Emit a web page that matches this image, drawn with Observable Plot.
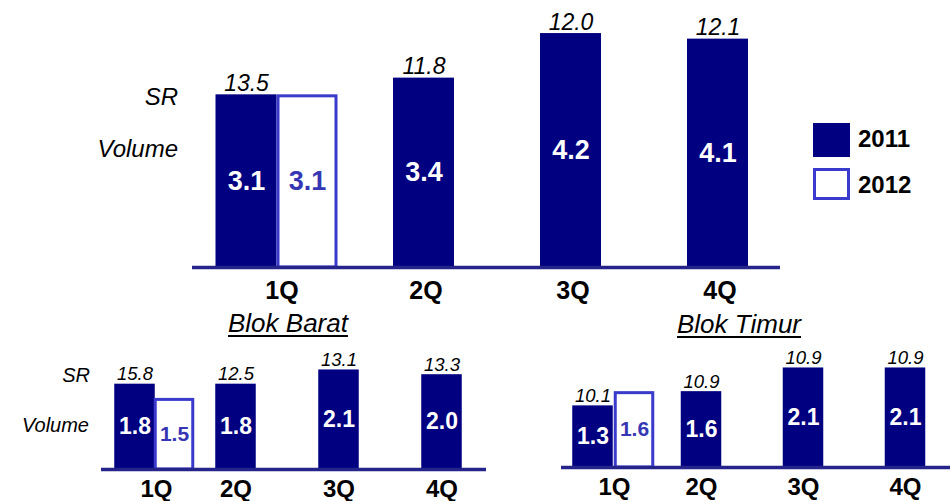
<!DOCTYPE html>
<html>
<head>
<meta charset="utf-8">
<script src="https://cdn.jsdelivr.net/npm/d3@7"></script>
<script src="https://cdn.jsdelivr.net/npm/@observablehq/plot@0.6"></script>
<style>
  body { margin: 0; background: #fff; font-family: "Liberation Sans", Arial, sans-serif; }
  #wrap { position: relative; width: 952px; height: 501px; overflow: hidden; background: #fff; }
  .abs { position: absolute; line-height: 1; white-space: nowrap; color: #000; }
  .panel { position: absolute; }
  .panel svg { overflow: visible; }
</style>
</head>
<body>
<div id="wrap"></div>
<script>
// ---- data ----
const quarters = ["1Q", "2Q", "3Q", "4Q"];
const years = ["2011", "2012"];
const rowLabels = ["SR", "Volume"];
const panelTitles = ["Blok Barat", "Blok Timur"];

const totalVolume2011 = [3.1, 3.4, 4.2, 4.1];
const totalSR2011 = [13.5, 11.8, 12.0, 12.1];
const totalVolume2012 = [3.1];

const baratVolume2011 = [1.8, 1.8, 2.1, 2.0];
const baratSR2011 = [15.8, 12.5, 13.1, 13.3];
const baratVolume2012 = [1.5];

const timurVolume2011 = [1.3, 1.6, 2.1, 2.1];
const timurSR2011 = [10.1, 10.9, 10.9, 10.9];
const timurVolume2012 = [1.6];

// ---- styles ----
const NAVY = "#000080";
const BLUE = "#3a3acc";
const BLUE_TEXT = "#3636b4";
const LINE = "#24248a";
const FONT = "Liberation Sans, Arial, sans-serif";

const wrap = document.getElementById("wrap");

function panel(cfg) {
  const d11 = quarters.map((q, i) => ({q, vol: cfg.vol11[i], sr: cfg.sr11[i]}));
  const d12 = cfg.vol12.map((v, i) => ({q: quarters[i], vol: v}));
  const first = d11.filter(d => d.q === quarters[0]);
  const rest = d11.filter(d => d.q !== quarters[0]);
  const side = (cfg.step - cfg.barW) / 2;
  const srText = {text: d => d.sr.toFixed(1), lineAnchor: "bottom", dy: -4, fontStyle: "italic", fontSize: cfg.srFs, fill: "#000"};
  const volText = {y: d => d.vol / 2, text: d => d.vol.toFixed(1), lineAnchor: "middle", fontWeight: "bold", fontSize: cfg.volFs};
  const qText = {frameAnchor: "bottom", text: d => d, lineAnchor: "middle", dy: cfg.labelDy, fontWeight: "bold", fontSize: cfg.qFs, fill: "#000"};
  const svg = Plot.plot({
    width: cfg.width,
    height: cfg.height,
    marginLeft: cfg.ml,
    marginRight: cfg.mr,
    marginTop: 0,
    marginBottom: cfg.mb,
    x: {type: "band", domain: quarters, range: cfg.range, padding: 0, axis: null},
    y: {domain: [0, cfg.ymax], axis: null},
    style: {fontFamily: FONT, background: "transparent", overflow: "visible"},
    marks: [
      Plot.barY(rest, {x: "q", y: "vol", fill: NAVY, insetLeft: side, insetRight: side}),
      Plot.barY(first, {x: "q", y: "vol", fill: NAVY, insetLeft: side, insetRight: side, dx: cfg.dx11}),
      Plot.barY(d12, {x: "q", y: "vol", fill: "white", stroke: BLUE, strokeWidth: 3,
        insetLeft: side + 1.5, insetRight: side + 1.5, insetTop: 1.5, dx: cfg.dx12}),
      Plot.ruleY([0], {stroke: LINE, strokeWidth: 3.5}),
      Plot.text(rest, {x: "q", y: "vol", ...srText}),
      Plot.text(first, {x: "q", y: "vol", ...srText, dx: cfg.dx11}),
      Plot.text(rest, {x: "q", ...volText, fill: "white"}),
      Plot.text(first, {x: "q", ...volText, fill: "white", dx: cfg.dx11}),
      Plot.text(d12, {x: "q", ...volText, fontSize: cfg.vol12Fs, fill: BLUE_TEXT, dx: cfg.dx12}),
      Plot.text(quarters.slice(1), {x: d => d, ...qText, dx: cfg.labelDx}),
      Plot.text(quarters.slice(0, 1), {x: d => d, ...qText, dx: cfg.labelDx1})
    ]
  });
  const div = document.createElement("div");
  div.className = "panel";
  div.style.left = cfg.left + "px";
  div.style.top = cfg.top + "px";
  div.appendChild(svg);
  wrap.appendChild(div);
}

// top: all
panel({
  vol11: totalVolume2011, sr11: totalSR2011, vol12: totalVolume2012,
  left: 0, top: 0, width: 800, height: 310, ml: 192, mr: 20, mb: 43,
  range: [203, 791], step: 147, barW: 61, dx11: -30.5, dx12: 30.5,
  ymax: 267 / 55.7, srFs: 23, volFs: 27, vol12Fs: 27, qFs: 25,
  labelDy: 23, labelDx: 2, labelDx1: 5
});
// bottom-left: Blok Barat
panel({
  vol11: baratVolume2011, sr11: baratSR2011, vol12: baratVolume2012,
  left: 0, top: 330, width: 500, height: 171, ml: 101, mr: 14, mb: 32,
  range: [79.75, 493.75], step: 103.5, barW: 41, dx11: 2, dx12: 41.5,
  ymax: 139 / 47.4, srFs: 18.5, volFs: 23, vol12Fs: 21, qFs: 24,
  labelDy: 19.5, labelDx: 0, labelDx1: 23.5
});
// bottom-right: Blok Timur
panel({
  vol11: timurVolume2011, sr11: timurSR2011, vol12: timurVolume2012,
  left: 480, top: 330, width: 472, height: 171, ml: 81, mr: 2, mb: 34,
  range: [66.75, 476.75], step: 102.5, barW: 41, dx11: -6.5, dx12: 35,
  ymax: 137 / 47.4, srFs: 18.5, volFs: 23, vol12Fs: 21, qFs: 24,
  labelDy: 20, labelDx: 0, labelDx1: 15
});

// ---- html text ----
function label(text, {x, baseline, fs, anchor = "start", italic = false, bold = false, underline = false, color = "#000"}) {
  const el = document.createElement("div");
  el.className = "abs";
  el.textContent = text;
  el.style.fontSize = fs + "px";
  el.style.top = (baseline - 0.8465 * fs) + "px";
  if (anchor === "end") el.style.right = (952 - x) + "px";
  else el.style.left = x + "px";
  if (italic) el.style.fontStyle = "italic";
  if (bold) el.style.fontWeight = "bold";
  if (underline) { el.style.textDecoration = "underline"; el.style.textDecorationThickness = "2px"; el.style.textUnderlineOffset = "3px"; }
  el.style.color = color;
  wrap.appendChild(el);
}

label(rowLabels[0], {x: 178, baseline: 105, fs: 24, anchor: "end", italic: true});
label(rowLabels[1], {x: 178, baseline: 157, fs: 24, anchor: "end", italic: true});
label(rowLabels[0], {x: 90, baseline: 382, fs: 20, anchor: "end", italic: true});
label(rowLabels[1], {x: 89, baseline: 432, fs: 20, anchor: "end", italic: true});
label(panelTitles[0], {x: 228, baseline: 332, fs: 26, italic: true, underline: true});
label(panelTitles[1], {x: 677, baseline: 333, fs: 26, italic: true, underline: true});

// legend
function swatch(top, filled) {
  const el = document.createElement("div");
  el.style.position = "absolute";
  el.style.left = "813px";
  el.style.top = top + "px";
  el.style.width = "37px";
  el.style.height = (filled ? 34 : 32) + "px";
  el.style.boxSizing = "border-box";
  if (filled) el.style.background = NAVY;
  else { el.style.background = "#fff"; el.style.border = "3px solid " + BLUE; }
  wrap.appendChild(el);
}
swatch(123, true);
swatch(168, false);
label(years[0], {x: 858, baseline: 147, fs: 24, bold: true});
label(years[1], {x: 858, baseline: 193, fs: 24, bold: true});
</script>
</body>
</html>
